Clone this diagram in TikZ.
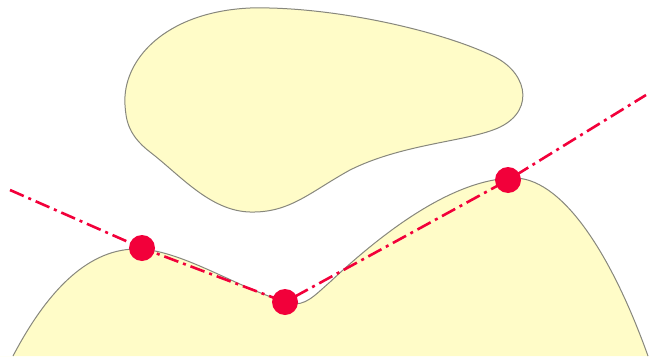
\documentclass[tikz,border=0pt]{standalone}
\begin{document}
\begin{tikzpicture}[x=1pt,y=-1pt,
  land/.style={fill=landfill},
  rim/.style={draw=rimgray,line width=1pt},
  tangent/.style={draw=mark,line width=2.6pt,dash pattern=on 15pt off 5pt on 3pt off 5pt},
  contact/.style={circle,fill=mark,minimum size=26pt,inner sep=0pt}]
\definecolor{landfill}{RGB}{255,252,200}
\definecolor{rimgray}{RGB}{135,135,125}
\definecolor{mark}{RGB}{242,0,58}
\useasboundingbox (0,0) rectangle (650,356);
% upper body
\path[land,rim] (125,105)
  .. controls (122,60) and (165,12) .. (250,8)
  .. controls (330,6) and (440,30) .. (495,57)
  .. controls (530,75) and (535,115) .. (493,130)
  .. controls (460,142) and (400,145) .. (350,170)
  .. controls (310,192) and (290,213) .. (250,212)
  .. controls (210,211) and (180,175) .. (150,152)
  .. controls (128,135) and (126,120) .. (125,105) -- cycle;
% lower terrain
\def\terrain{(13,356)
  .. controls (45,295) and (85,250) .. (135,249)
  .. controls (180,248) and (240,290) .. (290,303)
  .. controls (305,307) and (315,295) .. (330,282)
  .. controls (380,235) and (450,180) .. (512,178)
  .. controls (560,176) and (610,250) .. (648,356)}
\fill[land] \terrain -- (650,356) -- (0,356) -- cycle;
\draw[rim] \terrain;
% contact points and the supporting line
\coordinate (e1) at (10,190);
\coordinate (e2) at (646,95);
\node[contact] (p1) at (142,248) {};
\node[contact] (p2) at (285,302) {};
\node[contact] (p3) at (508,180) {};
\draw[tangent] (e1) -- (p1.center) -- (p2.center) -- (p3.center) -- (e2);
\end{tikzpicture}
\end{document}
